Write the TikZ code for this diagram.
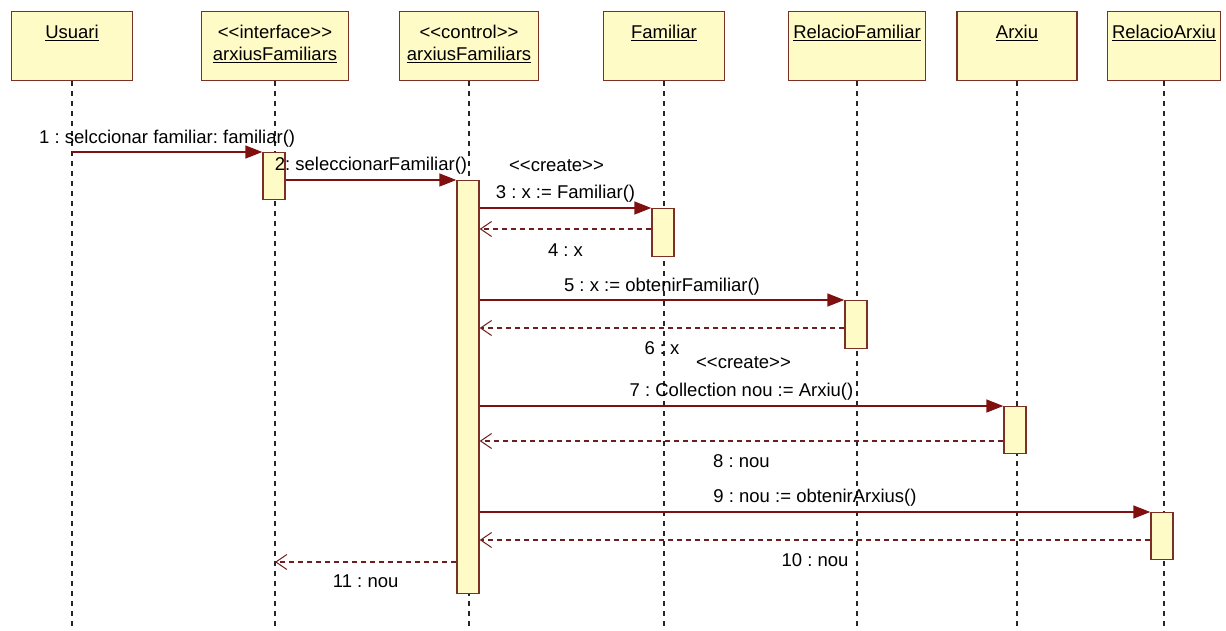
\documentclass[tikz,border=0pt]{standalone}
\usepackage{fontspec}
\setmainfont{Liberation Sans}
\usetikzlibrary{arrows.meta,calc}

\definecolor{boxfill}{RGB}{255,251,198}
\definecolor{boxline}{RGB}{122,48,36}
\definecolor{msgred}{RGB}{128,16,16}
\definecolor{retred}{RGB}{110,30,30}

% stereotype brackets, kept apart so they do not turn into guillemets
\newcommand\stL{<\kern0pt<}
\newcommand\stR{>\kern0pt>}

\begin{document}
\frenchspacing
\begin{tikzpicture}[x=1pt,y=-1pt,
  font=\fontsize{18.5}{22}\selectfont,
  header/.style={draw=boxline, fill=boxfill, line width=1.4pt, minimum height=69pt, inner sep=0pt, anchor=north},
  hname/.style={anchor=base, inner sep=0pt},
  act/.style={draw=boxline, fill=boxfill, line width=1.4pt, minimum width=22pt, inner sep=0pt, anchor=north},
  life/.style={draw=black!85, line width=1.3pt, dash pattern=on 5pt off 5pt},
  call/.style={draw=msgred, line width=1.5pt, -{Triangle[length=17pt,width=13pt]}},
  reply/.style={draw=retred, line width=1.2pt, dash pattern=on 5pt off 4pt, -{Straight Barb[length=11pt,width=15pt,line width=1pt]}},
  lab/.style={anchor=base, inner sep=0pt, text=black},
  uline/.style={draw=black, line width=1.3pt},
]
\fill[white] (0,0) rectangle (1226,630);
\useasboundingbox (0,0) rectangle (1226,630);

% object headers
\node[header, minimum width=121pt] (usuari)   at (72,11)   {};
\node[header, minimum width=147pt] (iface)    at (275,11)  {};
\node[header, minimum width=139pt] (ctrl)     at (469,11)  {};
\node[header, minimum width=121pt] (familiar) at (664,11)  {};
\node[header, minimum width=137pt] (relfam)   at (857,11)  {};
\node[header, minimum width=120pt] (arxiu)    at (1017,11) {};
\node[header, minimum width=113pt] (relarx)   at (1164,11) {};

\node[hname] (usuariT)   at (72,38)   {Usuari};
\node[hname] (ifaceS)    at (275,38)  {\stL interface\stR};
\node[hname] (ifaceT)    at (275,60)  {arxiusFamiliars};
\node[hname] (ctrlS)     at (469,38)  {\stL control\stR};
\node[hname] (ctrlT)     at (469,60)  {arxiusFamiliars};
\node[hname] (familiarT) at (664,38)  {Familiar};
\node[hname] (relfamT)   at (857,38)  {RelacioFamiliar};
\node[hname] (arxiuT)    at (1017,38) {Arxiu};
\node[hname] (relarxT)   at (1164,38) {RelacioArxiu};

\foreach \n in {usuariT,ifaceT,ctrlT,familiarT,relfamT,arxiuT,relarxT}
  \draw[uline] ($(\n.base west)+(0,2.5)$) -- ($(\n.base east)+(0,2.5)$);

% lifelines
\coordinate (usuariEnd)   at (72,630);
\coordinate (ifaceEnd)    at (275,630);
\coordinate (ctrlEnd)     at (469,630);
\coordinate (familiarEnd) at (664,630);
\coordinate (relfamEnd)   at (857,630);
\coordinate (arxiuEnd)    at (1017,630);
\coordinate (relarxEnd)   at (1164,630);
\draw[life] (usuari.south)   -- (usuariEnd);
\draw[life] (iface.south)    -- (ifaceEnd);
\draw[life] (ctrl.south)     -- (ctrlEnd);
\draw[life] (familiar.south) -- (familiarEnd);
\draw[life] (relfam.south)   -- (relfamEnd);
\draw[life] (arxiu.south)    -- (arxiuEnd);
\draw[life] (relarx.south)   -- (relarxEnd);

% activation bars
\node[act, minimum height=47pt]  (actI)  at (274,152)  {};
\node[act, minimum height=413pt] (actC)  at (468,180)  {};
\node[act, minimum height=48pt]  (actF)  at (663,208)  {};
\node[act, minimum height=48pt]  (actRF) at (856,300)  {};
\node[act, minimum height=47pt]  (actA)  at (1015,406) {};
\node[act, minimum height=47pt]  (actRA) at (1162,512) {};

% heights of the replies
\coordinate (y4)  at (0,229);
\coordinate (y6)  at (0,328);
\coordinate (y8)  at (0,441);
\coordinate (y10) at (0,540);
\coordinate (y11) at (0,562);

% messages
\draw[call] (usuari.south |- actI.north) -- (actI.north west)
  node[lab, midway, yshift=9pt] (l1) {1 : selccionar familiar: familiar()};
\draw[call] (actI.east |- actC.north) -- (actC.north west)
  node[lab, midway, yshift=10pt] (l2) {2: seleccionarFamiliar()};
\draw[call] (actC.east |- actF.north) -- (actF.north west)
  node[lab, midway, yshift=10pt] (l3) {3 : x := Familiar()}
  node[lab, midway, xshift=-9pt, yshift=37pt] (c3) {\stL create\stR};
\draw[reply] (actF.west |- y4) -- (actC.east |- y4)
  node[lab, midway, yshift=-27pt] (l4) {4 : x};
\draw[call] (actC.east |- actRF.north) -- (actRF.north west)
  node[lab, midway, yshift=9pt] (l5) {5 : x := obtenirFamiliar()};
\draw[reply] (actRF.west |- y6) -- (actC.east |- y6)
  node[lab, midway, yshift=-26pt] (l6) {6 : x};
\draw[call] (actC.east |- actA.north) -- (actA.north west)
  node[lab, midway, yshift=10pt] (l7) {7 : Collection nou := Arxiu()}
  node[lab, midway, xshift=2pt, yshift=38pt] (c7) {\stL create\stR};
\draw[reply] (actA.west |- y8) -- (actC.east |- y8)
  node[lab, midway, yshift=-26pt] (l8) {8 : nou};
\draw[call] (actC.east |- actRA.north) -- (actRA.north west)
  node[lab, midway, yshift=10pt] (l9) {9 : nou := obtenirArxius()};
\draw[reply] (actRA.west |- y10) -- (actC.east |- y10)
  node[lab, midway, yshift=-26pt] (l10) {10 : nou};
\draw[reply] (actC.west |- y11) -- (iface.south |- y11)
  node[lab, midway, yshift=-25pt] (l11) {11 : nou};
\end{tikzpicture}
\end{document}
